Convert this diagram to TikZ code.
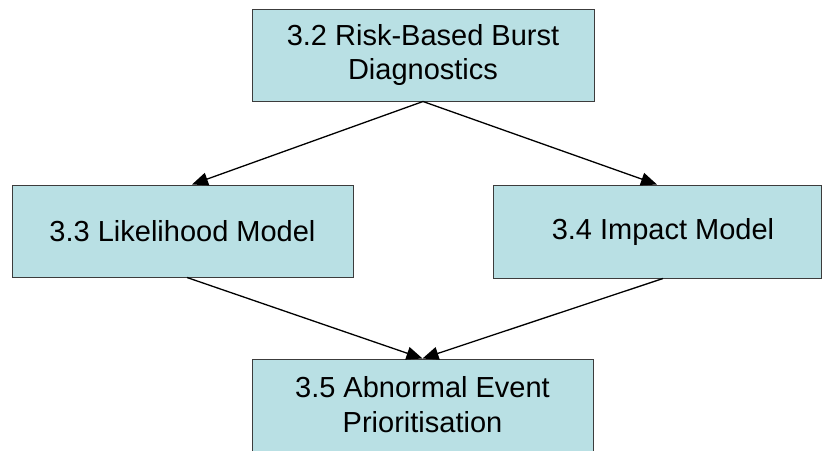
\documentclass[tikz,border=0pt]{standalone}
\usepackage{fontspec}
\setmainfont{Liberation Sans}
\usetikzlibrary{arrows.meta}
\definecolor{boxfill}{RGB}{185,224,228}
\definecolor{boxline}{RGB}{60,60,60}
\begin{document}
\begin{tikzpicture}[x=1pt,y=-1pt,
  stagebox/.style={draw=boxline, line width=1pt, fill=boxfill, inner sep=0pt,
    align=center, font=\fontsize{29}{35}\selectfont},
  flow/.style={draw=black, line width=1.3pt, -{Triangle[length=16pt,width=13pt]}}]
  \useasboundingbox (0,0) rectangle (822,450);

  % four process stages
  \node[stagebox, minimum width=342pt, minimum height=92pt] (diag) at (423,55)
    {3.2 Risk-Based Burst\\Diagnostics};
  \node[stagebox, minimum width=341pt, minimum height=92pt] (like) at (182.5,231)
    {3.3 Likelihood Model};
  \node[stagebox, minimum width=328pt, minimum height=93pt] (impact) at (657,231.5)
    {\hspace*{12pt}3.4 Impact Model};
  \node[stagebox, minimum width=341pt, minimum height=92pt] (prio) at (422.5,405)
    {3.5 Abnormal Event\\Prioritisation};

  % flow between stages
  \draw[flow] (diag.south) -- ([xshift=9.5pt]like.north);
  \draw[flow] (diag.south) -- (impact.north);
  \draw[flow] ([xshift=4.5pt]like.south) -- (prio.north);
  \draw[flow] ([xshift=6pt]impact.south) -- (prio.north);
\end{tikzpicture}
\end{document}
